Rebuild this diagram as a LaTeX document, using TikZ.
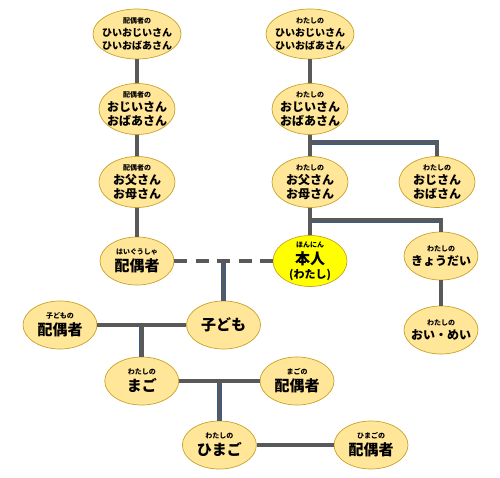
\documentclass[tikz,border=0pt]{standalone}
\usepackage{fontspec}
\setmainfont{Noto Sans CJK JP}
\usetikzlibrary{shapes.geometric,positioning,calc}
\definecolor{famfill}{HTML}{FFE699}
\definecolor{famedge}{HTML}{C9A227}
\definecolor{selffill}{HTML}{FFFF00}
\definecolor{linkcore}{HTML}{595959}
\definecolor{linkedge}{HTML}{3A5A93}
\newcommand{\furi}[1]{{\fontsize{7}{7.5}\selectfont #1}}
\tikzset{
  person/.style={ellipse, draw=famedge, fill=famfill, line width=0.7pt,
    inner xsep=-14pt, inner ysep=-10pt, minimum width=74, minimum height=48,
    align=center, font=\fontsize{12}{14}\selectfont\bfseries},
  elder/.style={person, minimum width=88, minimum height=50, font=\fontsize{10}{13}\selectfont\bfseries},
  tall/.style={person, minimum width=76, minimum height=51},
  bigname/.style={person, font=\fontsize{15}{17}\selectfont\bfseries},
  selfnode/.style={bigname, fill=selffill, minimum height=51},
  link/.style={draw=linkedge, line width=0.6pt, double=linkcore, double distance=3.6pt},
  marriage/.style={link, dash pattern=on 13pt off 8.5pt},
}
\begin{document}
\begin{tikzpicture}[x=1pt,y=-1pt]
\useasboundingbox (0,0) rectangle (500,478);

% -----------------------------------------------------------------------------
% spouse side
% -----------------------------------------------------------------------------
\node[elder] (sgg) at (137,34) {\furi{配偶者の}\\ひいおじいさん\\ひいおばあさん};
\node[tall] (sgp) at (137,109) {\furi{配偶者の}\\おじいさん\\おばあさん};
\node[tall] (spp) at (137,182) {\furi{配偶者の}\\お父さん\\お母さん};
\node[bigname] (spouse) at (137,261) {\furi{はいぐうしゃ}\\配偶者};

% -----------------------------------------------------------------------------
% my side
% -----------------------------------------------------------------------------
\node[elder] (mgg) at (310,34) {\furi{わたしの}\\ひいおじいさん\\ひいおばあさん};
\node[tall] (mgp) at (310,109) {\furi{わたしの}\\おじいさん\\おばあさん};
\node[tall] (parents) at (310,182) {\furi{わたしの}\\お父さん\\お母さん};
\node[tall] (uncle) at (437,182) {\furi{わたしの}\\おじさん\\おばさん};
\node[selfnode] (self) at (310,261) {\furi{ほんにん}\\本人\\[-3pt]{\fontsize{11}{12}\selectfont (わたし)}};
\node[person] (sibling) at (441,256) {\furi{わたしの}\\きょうだい};
\node[person] (nephew) at (441,330) {\furi{わたしの}\\おい・めい};

% forks
\coordinate (unclefork) at ($(mgp.south)!0.35!(parents.north)$);
\coordinate (sibfork) at ($(parents.south)!0.45!(self.north)$);
\coordinate (kidfork) at ($(spouse.east)!0.5!(self.west)$);

% -----------------------------------------------------------------------------
% descendants
% -----------------------------------------------------------------------------
\node[bigname] (child) at ($(kidfork)+(0,64)$) {子ども};
\node[bigname] (childspouse) at (60,325) {\furi{子どもの}\\配偶者};
\coordinate (gcfork) at ($(childspouse.east)!0.5!(child.west)$);
\node[bigname] (grandchild) at ($(gcfork)+(0,56)$) {\furi{わたしの}\\まご};
\node[bigname] (gcspouse) at (297,381) {\furi{まごの}\\配偶者};
\coordinate (ggfork) at ($(grandchild.east)!0.5!(gcspouse.west)$);
\node[bigname] (ggchild) at ($(ggfork)+(0,64)$) {\furi{わたしの}\\ひまご};
\node[bigname] (ggcspouse) at (371,445) {\furi{ひまごの}\\配偶者};

% connectors
\draw[marriage] (spouse.east) -- (self.west);
\draw[link]
  (sgg.south) -- (sgp.north)
  (sgp.south) -- (spp.north)
  (spp.south) -- (spouse.north)
  (mgg.south) -- (mgp.north)
  (mgp.south) -- (parents.north)
  (unclefork) -| (uncle.north)
  (parents.south) -- (self.north)
  (sibfork) -| (sibling.north)
  (sibling.south) -- (nephew.north)
  ($(kidfork)+(0,2.4)$) -- (child.north)
  (childspouse.east) -- (child.west)
  (gcfork) -- (grandchild.north)
  (grandchild.east) -- (gcspouse.west)
  (ggfork) -- (ggchild.north)
  (ggchild.east) -- (ggcspouse.west);

\end{tikzpicture}
\end{document}
